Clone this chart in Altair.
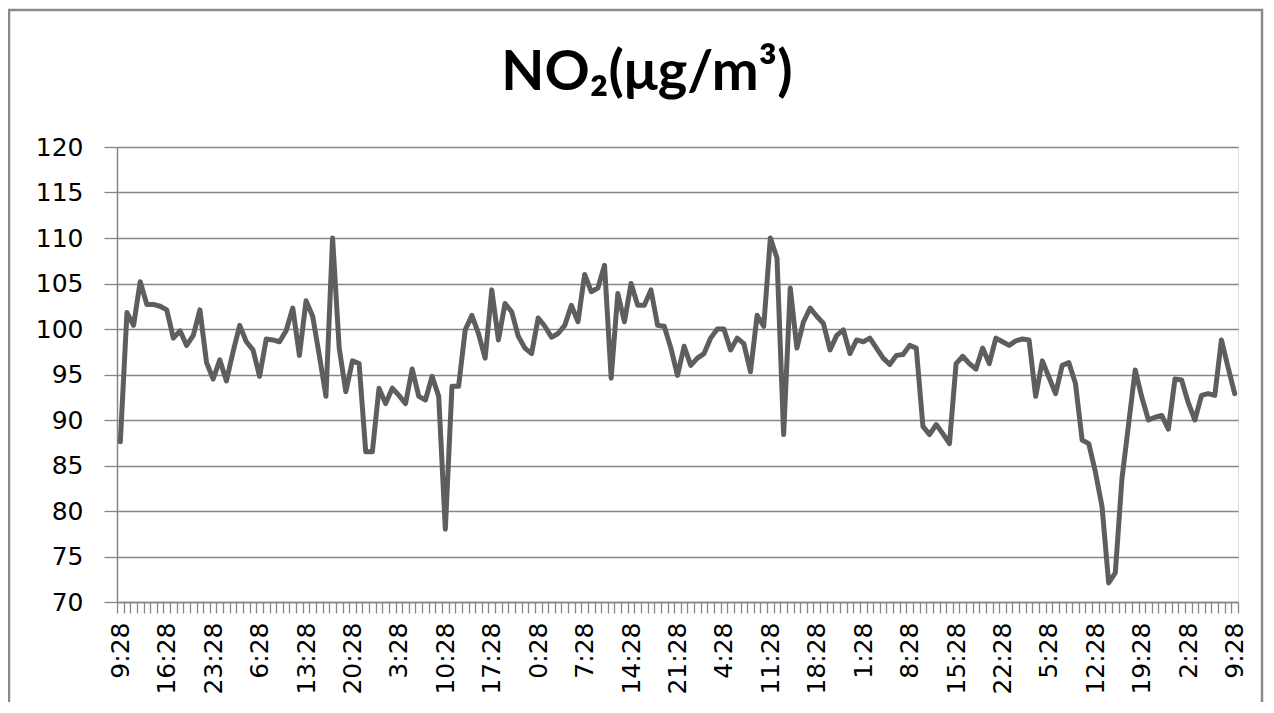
import json
import altair as alt
import pandas as pd

# hourly NO2 readings (µg/m³), 169 points, starting 9:28
no2 = [
    87.6, 101.8, 100.4, 105.2, 102.7, 102.7, 102.5, 102.1, 99.0, 99.8,
    98.2, 99.3, 102.1, 96.3, 94.5, 96.6, 94.3, 97.5, 100.4, 98.6,
    97.7, 94.8, 98.9, 98.8, 98.6, 99.8, 102.3, 97.1, 103.1, 101.4,
    97.1, 92.6, 110.0, 97.9, 93.1, 96.5, 96.2, 86.5, 86.5, 93.5,
    91.8, 93.5, 92.7, 91.8, 95.6, 92.6, 92.2, 94.8, 92.6, 78.0,
    93.7, 93.7, 99.9, 101.5, 99.5, 96.8, 104.3, 98.8, 102.8, 101.9,
    99.2, 97.9, 97.3, 101.2, 100.3, 99.1, 99.5, 100.4, 102.6, 100.8,
    106.0, 104.1, 104.5, 107.0, 94.6, 103.9, 100.8, 105.0, 102.6, 102.6,
    104.3, 100.4, 100.3, 97.9, 94.9, 98.1, 96.0, 96.8, 97.3, 99.0,
    100.0, 100.0, 97.7, 99.0, 98.4, 95.3, 101.5, 100.3, 110.0, 107.8,
    88.4, 104.5, 97.9, 100.8, 102.3, 101.4, 100.6, 97.7, 99.3, 99.9,
    97.3, 98.8, 98.6, 99.0, 97.9, 96.8, 96.1, 97.1, 97.2, 98.2,
    97.9, 89.3, 88.4, 89.5, 88.5, 87.4, 96.2, 97.0, 96.2, 95.6,
    97.9, 96.2, 99.0, 98.6, 98.2, 98.7, 98.9, 98.8, 92.6, 96.5,
    94.7, 92.9, 96.0, 96.3, 94.0, 87.8, 87.4, 84.3, 80.5, 72.1,
    73.2, 83.5, 89.5, 95.5, 92.5, 90.0, 90.3, 90.5, 89.0, 94.5,
    94.4, 91.9, 90.0, 92.7, 92.9, 92.7, 98.8, 95.8, 92.9,
]

# labels shown on the category axis (every 7th hour)
tick_labels = [
    "9:28", "16:28", "23:28", "6:28", "13:28", "20:28", "3:28", "10:28",
    "17:28", "0:28", "7:28", "14:28", "21:28", "4:28", "11:28", "18:28",
    "1:28", "8:28", "15:28", "22:28", "5:28", "12:28", "19:28", "2:28", "9:28",
]
label_step = 7

y_ticks = [70, 75, 80, 85, 90, 95, 100, 105, 110, 115, 120]

title_text = ["NO₂(μg/m³)"]

df = pd.DataFrame({"idx": list(range(len(no2))), "no2": no2})

GRID = "#878787"
FONT = "DejaVu Sans"

label_expr = (
    f"datum.value % {label_step} == 0 ? "
    + json.dumps(tick_labels)
    + f"[datum.value / {label_step}] : ''"
)

line = alt.Chart(df).mark_line(
    color="#5e5e5e", strokeWidth=5, strokeJoin="round", strokeCap="round"
).encode(
    x=alt.X(
        "idx:O",
        bandPosition=0.5,
        scale=alt.Scale(type="band", paddingInner=0, paddingOuter=0),
        axis=alt.Axis(
            title=None,
            labelExpr=label_expr,
            labelAngle=-90,
            labelOverlap=False,
            labelFont=FONT,
            labelFontSize=25,
            labelColor="#000000",
            labelPadding=9,
            tickBand="extent",
            tickSize=11,
            tickColor=GRID,
            tickWidth=1.3,
            domainColor=GRID,
            domainWidth=1.5,
            grid=False,
        ),
    ),
    y=alt.Y(
        "no2:Q",
        scale=alt.Scale(domain=[70, 120], nice=False, zero=False),
        axis=alt.Axis(
            title=None,
            values=y_ticks,
            labelFont=FONT,
            labelFontSize=25,
            labelColor="#000000",
            labelPadding=21,
            tickSize=13,
            tickColor=GRID,
            tickWidth=1.3,
            domainColor=GRID,
            domainWidth=1.5,
            gridColor=GRID,
            gridWidth=1.3,
            gridOpacity=1,
        ),
    ),
)

frame = alt.Chart(pd.DataFrame({"a": [0]})).mark_rect(
    fill=None, stroke="#8a8a8a", strokeWidth=2.5
).encode(
    x=alt.value(-108), x2=alt.value(1145),
    y=alt.value(-137), y2=alt.value(600),
)

title = alt.Chart(pd.DataFrame({"t": title_text})).mark_text(
    font="Lato", fontSize=56, fontWeight="bold", color="#000000",
    align="center", baseline="alphabetic",
).encode(
    text="t:N",
    x=alt.value(530),
    y=alt.value(-57),
)

chart = alt.layer(frame, title, line).properties(
    width=1121,
    height=455,
    autosize=alt.AutoSizeParams(type="none"),
    padding={"left": 109, "top": 139, "right": 26, "bottom": 100},
).configure_view(stroke=None).configure(background="white")

chart.save("out.html", embed_options={"renderer": "svg", "actions": False})
